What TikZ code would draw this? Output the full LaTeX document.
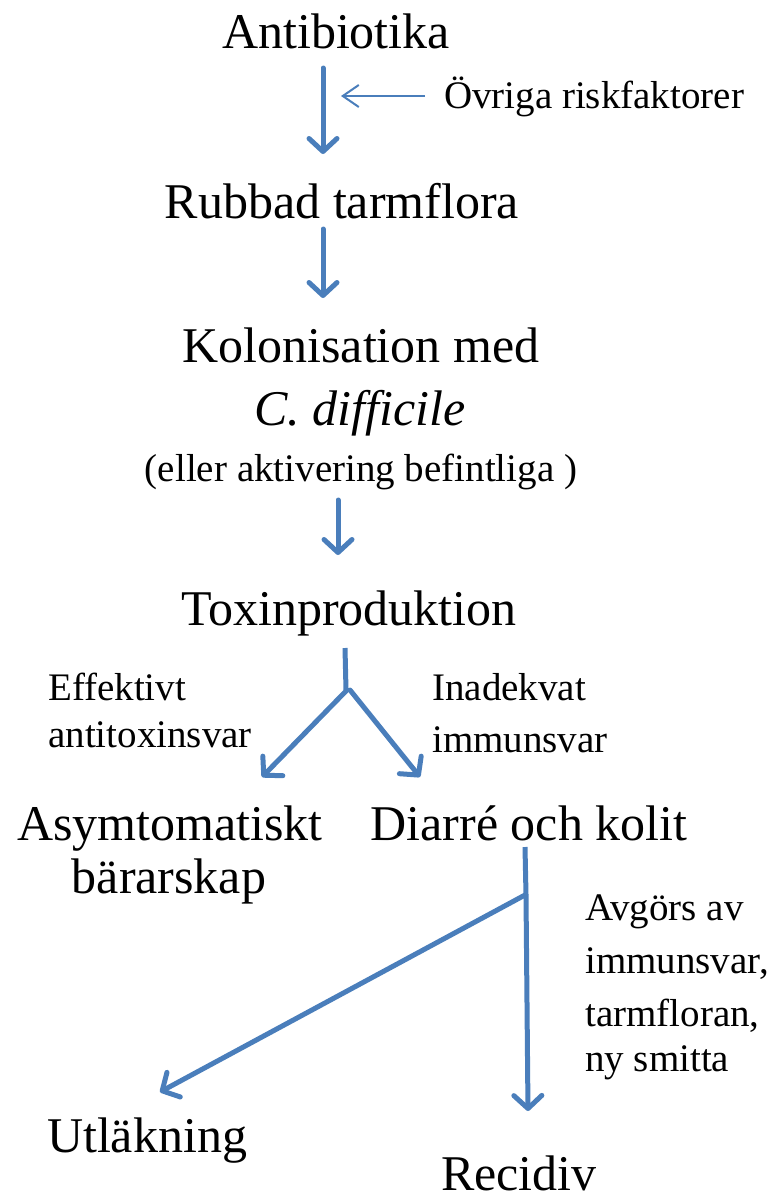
\documentclass[tikz,border=0pt]{standalone}
\usepackage{fontspec}
\setmainfont{Liberation Serif}
\usetikzlibrary{arrows.meta}
\definecolor{obl}{RGB}{74,126,187}
\tikzset{
  x=1pt,y=-1pt,
  big/.style={inner sep=0pt,anchor=base,font=\fontsize{50}{60}\selectfont},
  small/.style={inner sep=0pt,anchor=base,font=\fontsize{39}{48}\selectfont},
  smallL/.style={inner sep=0pt,anchor=base west,font=\fontsize{39}{48}\selectfont},
  thick arrow/.style={draw=obl,line width=5pt,line cap=round,line join=round,
     -{Straight Barb[length=13pt,width=28pt,line cap=round,line join=round]}},
  thick line/.style={draw=obl,line width=5pt,line cap=butt},
  thin arrow/.style={draw=obl,line width=2pt,
     -{Straight Barb[length=16pt,width=22pt]}}
}
\begin{document}
\begin{tikzpicture}
\useasboundingbox (0,0) rectangle (774,1194);
% texts
\node[big] (anti) at (336,48) {Antibiotika};
\node[small] (ovr) at (594,108) {Övriga riskfaktorer};
\node[big] (rubb) at (342,218) {Rubbad tarmflora};
\node[big] (kol1) at (361,362) {Kolonisation med};
\node[big] (kol2) at (360,425) {\itshape C. difficile};
\node[small] (kol3) at (361,481) {(eller aktivering befintliga )};
\node[big] (tox) at (349,625) {Toxinproduktion};
\node[smallL] (eff1) at (48,700) {Effektivt};
\node[smallL] (eff2) at (48,747) {antitoxinsvar};
\node[smallL] (ina1) at (432,700) {Inadekvat};
\node[smallL] (ina2) at (432,752) {immunsvar};
\node[big] (asy1) at (170,840) {Asymtomatiskt};
\node[big] (asy2) at (169,893) {bärarskap};
\node[big] (dia) at (529,840) {Diarré och kolit};
\node[smallL] (avg1) at (585,920) {Avgörs av};
\node[smallL] (avg2) at (585,973) {immunsvar,};
\node[smallL] (avg3) at (585,1026) {tarmfloran,};
\node[smallL] (avg4) at (585,1071) {ny smitta};
\node[big] (utl) at (147,1152) {Utläkning};
\node[big] (rec) at (519,1190) {Recidiv};
% connector points
\coordinate (a1) at (323,68);
\coordinate (a2) at (323,154);
\coordinate (o1) at (425,96);
\coordinate (o2) at (341,96);
\coordinate (r1) at (323,229);
\coordinate (r2) at (323,298);
\coordinate (k1) at (338,500);
\coordinate (k2) at (338,555);
\coordinate (t1) at (345,648);
\coordinate (tj) at (346,690);
\coordinate (tl) at (262,777);
\coordinate (tr) at (420,777);
\coordinate (d1) at (525,847);
\coordinate (dj) at (526,895);
\coordinate (dl) at (160,1092);
\coordinate (dr) at (528,1111);
% connectors
\draw[thick arrow] (a1) -- (a2);
\draw[thin arrow] (o1) -- (o2);
\draw[thick arrow] (r1) -- (r2);
\draw[thick arrow] (k1) -- (k2);
\draw[thick line] (t1) -- (tj);
\draw[thick arrow] ([xshift=1pt]tj) -- (tl);
\draw[thick arrow] ([xshift=4pt]tj) -- (tr);
\draw[thick line] (d1) -- (dj);
\draw[thick arrow] ([xshift=-1pt]dj) -- (dl);
\draw[thick arrow] (dj) -- (dr);
\end{tikzpicture}
\end{document}
